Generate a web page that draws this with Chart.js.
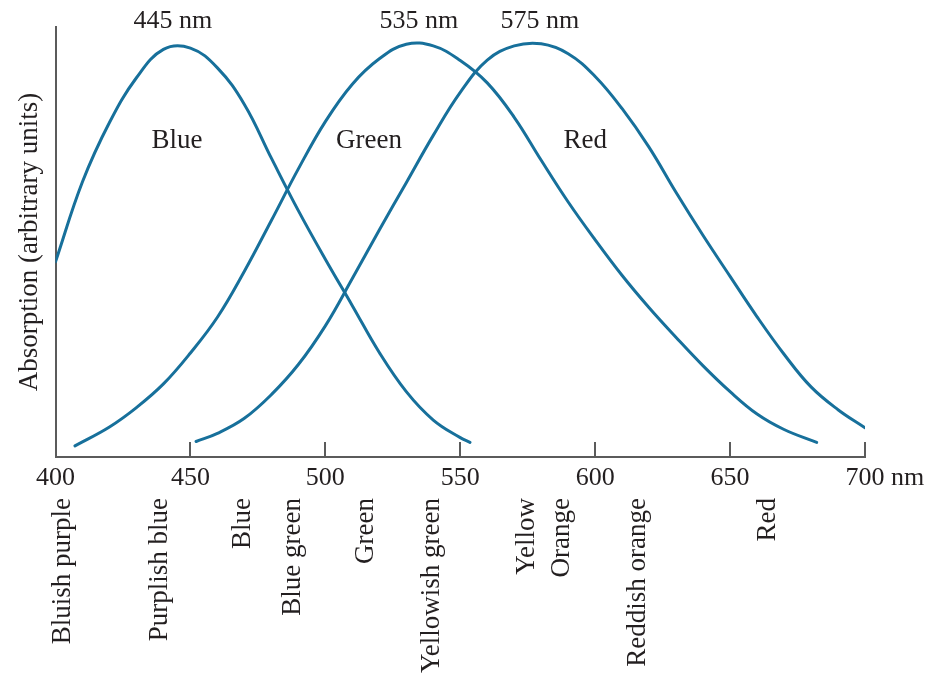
<!DOCTYPE html>
<html>
<head>
<meta charset="utf-8">
<title>Cone absorption spectra</title>
<script src="https://cdn.jsdelivr.net/npm/chart.js@4.4.1/dist/chart.umd.min.js"></script>
<style>
  html, body { margin: 0; padding: 0; background: #fff; }
</style>
</head>
<body>
<canvas id="myChart" width="931" height="677"></canvas>
<script>
// absorption curves of the three cone types (wavelength in nm, arbitrary units)
const blueNm = [400, 410, 420, 430, 440, 450, 460, 470, 480, 490, 500, 510, 520, 530, 540, 550, 553.6];
const blueAbs = [45.4, 64, 77.8, 88.2, 94.8, 95.1, 90.5, 82, 69.5, 57.3, 46, 35.2, 24.3, 15.2, 8.6, 4.5, 3.4];

const greenNm = [407.2, 420, 430, 440, 450, 460, 470, 480, 490, 500, 510, 520, 530, 540, 550, 560, 570, 580, 590, 600, 610, 620, 630, 640, 650, 660, 670, 682.1];
const greenAbs = [2.6, 7, 11.5, 17, 24.2, 32.5, 43.2, 55, 67, 78, 86.7, 92.6, 96, 95.6, 92.2, 87, 79, 69, 59.3, 50.5, 42.2, 34.7, 27.8, 21.2, 15.2, 10, 6.4, 3.4];

const redNm = [452.1, 460, 470, 480, 490, 500, 510, 520, 530, 540, 550, 560, 570, 580, 590, 600, 610, 620, 630, 640, 650, 660, 670, 680, 690, 700];
const redAbs = [3.6, 5.5, 9, 14.5, 21.5, 30.5, 41.5, 52.8, 63.8, 74.8, 84.8, 92.3, 95.6, 96.1, 93.8, 88.5, 81, 72, 61.5, 51.5, 42, 32.6, 23.9, 16.3, 11, 6.8];

// peak wavelength labels along the top
const peakLabels = ["445 nm", "535 nm", "575 nm"];
const peakLabelNm = [443.5, 534.7, 579.5];

// cone names written inside the plot
const coneNames = ["Blue", "Green", "Red"];
const coneNameNm = [445, 516.2, 596.3];
const coneNameAbs = [71.9, 71.9, 71.9];

// perceived colour names under the wavelength axis
const hueNames = ["Bluish purple", "Purplish blue", "Blue", "Blue green", "Green", "Yellowish green", "Yellow", "Orange", "Reddish orange", "Red"];
const hueNm = [402.6, 438.7, 469.5, 488, 515, 539.5, 574.7, 587.6, 615.9, 664];

const xTicks = [400, 450, 500, 550, 600, 650, 700];

const LINE_COLOR = "#17709b";
const AXIS_COLOR = "#5b5b5b";
const TEXT_COLOR = "#231f20";
const SERIF = "'Liberation Serif', 'Times New Roman', serif";

function toPoints(xs, ys) {
    return xs.map((v, i) => ({ x: v, y: ys[i] }));
}

function curve(label, xs, ys) {
    return {
        label: label,
        data: toPoints(xs, ys),
        borderColor: LINE_COLOR,
        borderWidth: 3,
        pointRadius: 0,
        fill: false,
        tension: 0.4,
        borderCapStyle: "round",
    };
}

const textLayer = {
    id: "textLayer",
    afterDraw(chart) {
        const ctx = chart.ctx;
        const x = chart.scales.x;
        const y = chart.scales.y;
        ctx.save();

        // tick marks point up into the plot
        ctx.strokeStyle = AXIS_COLOR;
        ctx.lineWidth = 2;
        for (const t of xTicks.slice(1)) {
            const px = Math.round(x.getPixelForValue(t));
            ctx.beginPath();
            ctx.moveTo(px, y.bottom);
            ctx.lineTo(px, y.bottom - 15);
            ctx.stroke();
        }

        ctx.fillStyle = TEXT_COLOR;

        // unit after the last tick value
        ctx.font = "26px " + SERIF;
        ctx.textBaseline = "middle";
        ctx.textAlign = "left";
        const last = xTicks[xTicks.length - 1];
        const w = ctx.measureText(String(last)).width;
        ctx.fillText(" nm", x.getPixelForValue(last) + w / 2, x.top + 6 + 15.6);

        // peak wavelengths
        ctx.textAlign = "center";
        ctx.textBaseline = "alphabetic";
        peakLabels.forEach((s, i) => {
            ctx.fillText(s, x.getPixelForValue(peakLabelNm[i]), 28);
        });

        // cone names
        ctx.font = "27px " + SERIF;
        coneNames.forEach((s, i) => {
            ctx.fillText(s, x.getPixelForValue(coneNameNm[i]), y.getPixelForValue(coneNameAbs[i]));
        });

        // colour names, rotated to read upward
        ctx.textAlign = "right";
        ctx.textBaseline = "middle";
        hueNames.forEach((s, i) => {
            ctx.save();
            ctx.translate(x.getPixelForValue(hueNm[i]), 498);
            ctx.rotate(-Math.PI / 2);
            ctx.fillText(s, 0, 0);
            ctx.restore();
        });

        ctx.restore();
    },
};

new Chart("myChart", {
    type: "line",
    data: {
        datasets: [
            curve("Blue", blueNm, blueAbs),
            curve("Green", greenNm, greenAbs),
            curve("Red", redNm, redAbs),
        ],
    },
    options: {
        responsive: false,
        animation: false,
        layout: {
            padding: { left: 8, right: 66, top: 27, bottom: 176.8 },
        },
        plugins: {
            legend: { display: false },
            tooltip: { enabled: false },
        },
        scales: {
            x: {
                type: "linear",
                min: 400,
                max: 700,
                afterBuildTicks: (scale) => {
                    scale.ticks = xTicks.map((v) => ({ value: v }));
                },
                grid: { display: false, drawTicks: false },
                border: { display: true, color: AXIS_COLOR, width: 2 },
                ticks: {
                    padding: 6,
                    maxRotation: 0,
                    color: TEXT_COLOR,
                    font: { family: SERIF, size: 26 },
                    callback: (v) => String(v),
                },
            },
            y: {
                min: 0,
                max: 100,
                grid: { display: false, drawTicks: false },
                border: { display: true, color: AXIS_COLOR, width: 2 },
                ticks: { display: false },
                title: {
                    display: true,
                    text: "Absorption (arbitrary units)",
                    color: TEXT_COLOR,
                    font: { family: SERIF, size: 27 },
                    padding: { top: 5.8, bottom: 9.3 },
                },
            },
        },
    },
    plugins: [textLayer],
});
</script>
</body>
</html>
